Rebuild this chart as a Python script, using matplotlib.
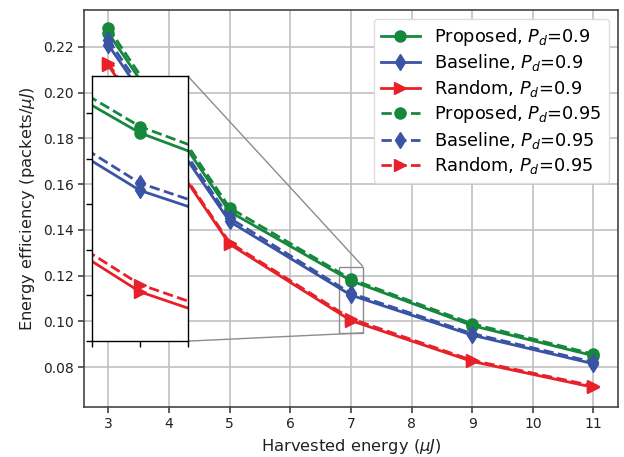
import matplotlib
matplotlib.use("Agg")
import matplotlib.pyplot as plt
from mpl_toolkits.axes_grid1.inset_locator import mark_inset
from matplotlib.ticker import MultipleLocator

x = [3, 5, 7, 9, 11]
proposed_09 = [0.2261, 0.1480, 0.1178, 0.0982, 0.0850]
proposed_095 = [0.2283, 0.1497, 0.1185, 0.0990, 0.0857]
baseline_09 = [0.2209, 0.1437, 0.1115, 0.0940, 0.0815]
baseline_095 = [0.2231, 0.1452, 0.1123, 0.0947, 0.0822]
random_09 = [0.2120, 0.1338, 0.1004, 0.0825, 0.0712]
random_095 = [0.2128, 0.1345, 0.1012, 0.0830, 0.0718]

labels = ["Proposed, $P_d$=0.9", "Baseline, $P_d$=0.9", "Random, $P_d$=0.9",
          "Proposed, $P_d$=0.95", "Baseline, $P_d$=0.95", "Random, $P_d$=0.95"]

GREEN = "#17873d"
BLUE = "#3a53a4"
RED = "#e8202a"

series = [
    (proposed_09, GREEN, "o", "-"),
    (baseline_09, BLUE, "d", "-"),
    (random_09, RED, ">", "-"),
    (proposed_095, GREEN, "o", "--"),
    (baseline_095, BLUE, "d", "--"),
    (random_095, RED, ">", "--"),
]

fig = plt.figure(figsize=(6.24, 4.57), dpi=100)
ax = fig.add_axes([0.1346, 0.1094, 0.8554, 0.8686])


def draw(a):
    for (vals, c, m, ls), lab in zip(series, labels):
        a.plot(x, vals, color=c, marker=m, linestyle=ls, linewidth=2,
               markersize=8, label=lab)


draw(ax)
ax.set_xlim(2.6, 11.4)
ax.set_ylim(0.0626, 0.2361)
ax.set_xticks([3, 4, 5, 6, 7, 8, 9, 10, 11])
ax.set_yticks([0.08, 0.10, 0.12, 0.14, 0.16, 0.18, 0.20, 0.22])
ax.grid(True, color="#c0c0c0", linewidth=1.2)
ax.set_axisbelow(True)
for s in ax.spines.values():
    s.set_color("#444444")
    s.set_linewidth(1.2)
ax.tick_params(direction="out", length=4, width=1.2, colors="#444444",
               labelsize=10, labelcolor="#222222")
ax.set_xlabel("Harvested energy ($\\mu J$)", fontsize=11.8, color="#222222")
ax.set_ylabel("Energy efficiency (packets/$\\mu J$)", fontsize=11.8, color="#222222")
leg = ax.legend(loc="upper right", fontsize=12.8, handlelength=2.2,
                labelspacing=0.25, framealpha=1.0, borderaxespad=0.5)
leg.get_frame().set_edgecolor("#dddddd")

axins = ax.inset_axes([0.015, 0.166, 0.18, 0.667])
draw(axins)
axins.set_xlim(6.8, 7.2)
axins.set_ylim(0.095, 0.124)
axins.xaxis.set_major_locator(MultipleLocator(0.2))
axins.yaxis.set_major_locator(MultipleLocator(0.005))
axins.tick_params(direction="out", length=4, width=1.0, labelbottom=False,
                  labelleft=False)
axins.set_facecolor("white")
for s in axins.spines.values():
    s.set_color("black")
    s.set_linewidth(1.0)
mark_inset(ax, axins, loc1=1, loc2=4, fc="none", ec="0.55", lw=1.0)

fig.savefig("out.png", dpi=100)
